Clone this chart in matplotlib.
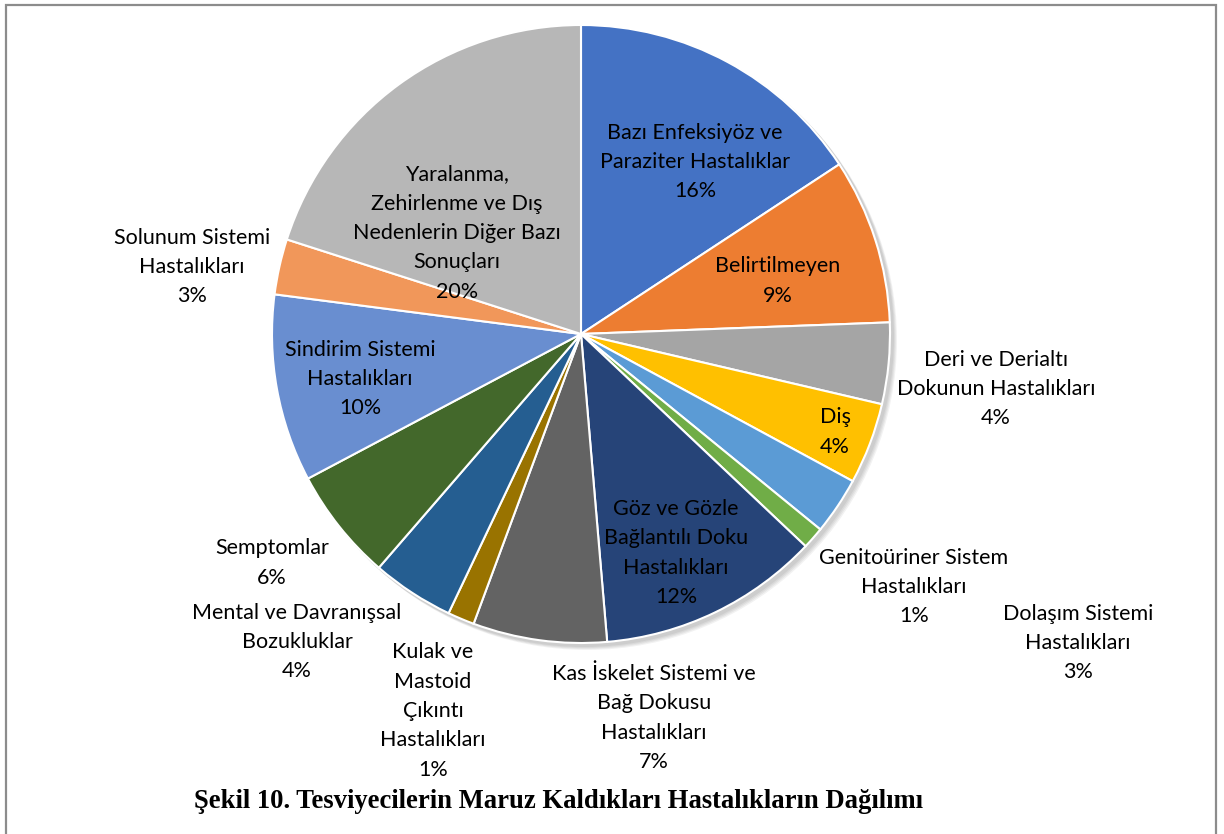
import matplotlib.pyplot as plt

labels = [
    "Bazı Enfeksiyöz ve\nParaziter Hastalıklar",
    "Belirtilmeyen",
    "Deri ve Derialtı\nDokunun Hastalıkları",
    "Diş",
    "Dolaşım Sistemi\nHastalıkları",
    "Genitoüriner Sistem\nHastalıkları",
    "Göz ve Gözle\nBağlantılı Doku\nHastalıkları",
    "Kas İskelet Sistemi ve\nBağ Dokusu\nHastalıkları",
    "Kulak ve\nMastoid\nÇıkıntı\nHastalıkları",
    "Mental ve Davranışsal\nBozukluklar",
    "Semptomlar",
    "Sindirim Sistemi\nHastalıkları",
    "Solunum Sistemi\nHastalıkları",
    "Yaralanma,\nZehirlenme ve Dış\nNedenlerin Diğer Bazı\nSonuçları",
]
# shares
values = [15.75, 8.65, 4.25, 4.25, 3.0, 1.15, 11.6, 7.0, 1.4, 4.3, 5.9, 9.8, 2.9, 20.05]
percents = ["16%", "9%", "4%", "4%", "3%", "1%", "12%", "7%", "1%", "4%", "6%", "10%", "3%", "20%"]

colors = ["#4472C4", "#ED7D31", "#A5A5A5", "#FFC000", "#5B9BD5", "#70AD47", "#264478",
          "#636363", "#997300", "#255E91", "#43682B", "#698ED0", "#F1975A", "#B7B7B7"]

# label centres in pixels (x, y from top)
label_pos = [(695, 162), (778, 281), (996, 389), (835, 432), (1078, 643), (914, 587),
             (676, 553), (654, 718), (433, 711), (297, 642), (272, 563), (360, 379),
             (192, 267), (457, 233)]

W, H = 1224, 834
fig = plt.figure(figsize=(W / 100, H / 100), dpi=100)
ax = fig.add_axes([0, 0, 1, 1])

cx, cy, r = 581, H - 334, 309

# soft shadow
for i, a in enumerate([0.05, 0.05, 0.05, 0.05]):
    ax.add_patch(plt.Circle((cx + 3 + i, cy - 3 - i), r + 1, color="black", alpha=a,
                            lw=0, zorder=0))

ax.pie(values, colors=colors, startangle=90, counterclock=False, center=(cx, cy),
       radius=r, wedgeprops=dict(edgecolor="white", linewidth=1.5))

for lab, pc, (x, y) in zip(labels, percents, label_pos):
    ax.text(x, H - y, lab + "\n" + pc, ha="center", va="center", fontsize=15.5,
            family="Lato", color="black", linespacing=1.58)

# frame round the chart area, open at the bottom
ax.plot([6, 6, 1216, 1216], [0, H - 5, H - 5, 0], color="#8c8c8c", lw=1.6,
        solid_joinstyle="miter")

ax.text(559, H - 802, "Şekil 10. Tesviyecilerin Maruz Kaldıkları Hastalıkların Dağılımı",
        ha="center", va="center", fontsize=19.2, family="Liberation Serif",
        fontweight="bold")

ax.set_xlim(0, W)
ax.set_ylim(0, H)
ax.set_aspect("auto")
ax.axis("off")

fig.savefig("out.png", dpi=100)
